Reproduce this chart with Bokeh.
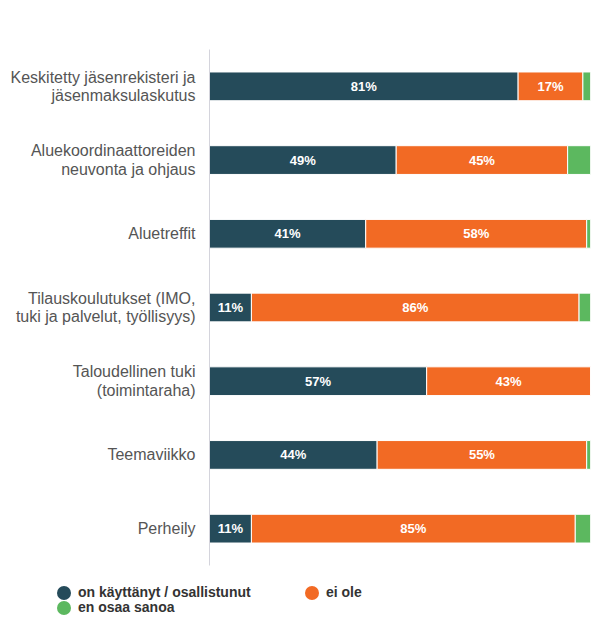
from bokeh.plotting import figure
from bokeh.layouts import column
from bokeh.models import ColumnDataSource, FactorRange, Range1d, Div
from bokeh.embed import file_html
from bokeh.resources import INLINE
from bokeh.core.properties import value

categories = [
    "Keskitetty jäsenrekisteri ja\njäsenmaksulaskutus",
    "Aluekoordinaattoreiden\nneuvonta ja ohjaus",
    "Aluetreffit",
    "Tilauskoulutukset (IMO,\ntuki ja palvelut, työllisyys)",
    "Taloudellinen tuki\n(toimintaraha)",
    "Teemaviikko",
    "Perheily",
]
used = [81, 49, 41, 11, 57, 44, 11]
not_used = [17, 45, 58, 86, 43, 55, 85]
dont_know = [2, 6, 1, 3, 0, 1, 4]
series_names = ["on käyttänyt / osallistunut", "ei ole", "en osaa sanoa"]
colors = ["#254b5a", "#f26a24", "#5cb85f"]

FONT = "Liberation Sans"

src = ColumnDataSource(dict(
    cat=categories,
    used=used,
    not_used=not_used,
    dont_know=dont_know,
    used_mid=[u / 2 for u in used],
    not_mid=[u + n / 2 for u, n in zip(used, not_used)],
    used_lbl=[f"{u}%" if u > 0 else "" for u in used],
    not_lbl=[f"{n}%" if n > 0 else "" for n in not_used],
))

p = figure(
    width=592, height=570,
    y_range=FactorRange(factors=list(reversed(categories)), range_padding=0),
    x_range=Range1d(0, 100),
    x_axis_location=None,
    output_backend="svg", toolbar_location=None,
    min_border_left=209, min_border_right=2, min_border_top=49, min_border_bottom=5,
)
p.outline_line_color = None
p.grid.visible = False

p.hbar_stack(["used", "not_used", "dont_know"], y="cat", height=0.39,
             color=colors, line_color="white", line_width=1, source=src)

for xcol, tcol in (("used_mid", "used_lbl"), ("not_mid", "not_lbl")):
    p.text(x=xcol, y="cat", text=tcol, source=src, text_color="white",
           text_font=value(FONT), text_font_size="13px", text_font_style="bold",
           text_align="center", text_baseline="middle")

ax = p.yaxis[0]
ax.axis_line_color = "#d4d4dc"
ax.axis_line_width = 1
ax.major_tick_line_color = None
ax.minor_tick_line_color = None
ax.major_label_text_font = FONT
ax.major_label_text_font_size = "16px"
ax.major_label_text_color = "#555555"
ax.major_label_text_line_height = 1.1
ax.major_label_standoff = 8

# HTML legend below the chart
item_html = []
for name, c in zip(series_names, colors):
    item_html.append(
        f'<div style="display:flex;align-items:center;height:15px;">'
        f'<span style="display:inline-block;width:14px;height:14px;border-radius:50%;'
        f'background:{c};margin-right:7px;flex:none;"></span>'
        f'<span>{name}</span></div>'
    )
legend_html = (
    f'<div style="display:grid;grid-template-columns:248px 248px;'
    f'padding:15px 0 0 57px;font-family:\'{FONT}\';font-size:14px;font-weight:bold;'
    f'color:#333333;line-height:15px;white-space:nowrap;">'
    + "".join(item_html) + "</div>"
)
lg = Div(text=legend_html, width=592, height=57, margin=0)

layout = column(p, lg, spacing=0)
open("out.html", "w").write(file_html(layout, INLINE))
